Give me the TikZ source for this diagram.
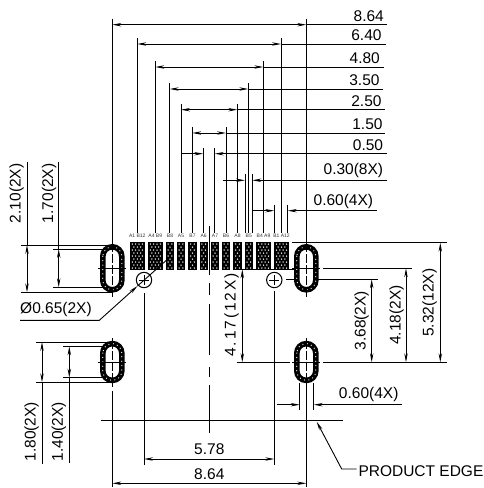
\documentclass[tikz,border=0pt]{standalone}
\usepackage{fontspec}
\setmainfont{Liberation Sans}
\usetikzlibrary{arrows.meta}
\tikzset{
  thinline/.style={line width=.9pt},
  dimline/.style={line width=.9pt,{Stealth[length=9pt,width=3.4pt]}-{Stealth[length=9pt,width=3.4pt]}},
  pointer/.style={line width=.9pt,-{Stealth[length=9pt,width=3.4pt]}},
  dimtext/.style={font=\fontsize{15.5}{18}\selectfont,inner sep=0pt,text height=11pt,text depth=0pt},
  padtext/.style={font=\fontsize{5}{6}\selectfont,inner sep=0pt,text=black!80}
}
\begin{document}
\begin{tikzpicture}[x=1pt,y=-1pt]
      \useasboundingbox (0,0) rectangle (484,488);
      % top ladder
      \foreach \xa/\xb/\yd/\xe/\xl/\yl/\txt [count=\n] in {
          112.3/306.3/24.7/387/384/15.7/8.64,
          137.3/281/44/385.7/381.7/35/6.40,
          155.3/263.3/67/384/380/58.3/4.80,
          169.7/248.3/89/383/379.7/80/3.50,
          181/237.3/109.7/385/381.7/100.7/2.50,
          192.3/226/133/385/382.7/124.3/1.50} {
        \draw[thinline] (\xa,\yd-6) -- (\xa,233);
        \draw[thinline] (\xb,\yd-6) -- (\xb,233);
        \draw[dimline] (\xa,\yd) -- (\xb,\yd);
        \draw[thinline] (\xb,\yd) -- (\xe,\yd);
        \node[dimtext,anchor=east] (toplabel\n) at (\xl,\yl) {\txt};
      }
      % outside arrows
      \foreach \xa/\xb/\yd/\xs/\xe/\xl/\yl/\txt [count=\n] in {
          203.3/214.7/153.7/181/386.7/383.3/145/0.50,
          245/252.3/180.3/222.7/386.7/383.3/169/{0.30(8X)},
          274.3/287.7/210.7/252/376.7/373.3/200/{0.60(4X)}} {
        \draw[thinline] (\xa,\yd-6) -- (\xa,233);
        \draw[thinline] (\xb,\yd-6) -- (\xb,233);
        \draw[pointer] (\xs,\yd) -- (\xa,\yd);
        \draw[pointer] (\xe,\yd) -- (\xb,\yd);
        \node[dimtext,anchor=east] (pitchlabel\n) at (\xl,\yl) {\txt};
      }
      % centre line
      \foreach \ya/\yb in {226/275,283/295,304/355,367/377,385/433}
        \draw[thinline] (209.3,\ya) -- (209.3,\yb);
      % extension lines
      \draw[thinline] (21,245) -- (112,245);
      \draw[thinline] (21,292.3) -- (112,292.3);
      \draw[thinline] (53,249) -- (112,249);
      \draw[thinline] (53,287.3) -- (112,287.3);
      \draw[thinline] (36,342) -- (112,342);
      \draw[thinline] (36,382.3) -- (112,382.3);
      \draw[thinline] (63.3,346.3) -- (112,346.3);
      \draw[thinline] (63.3,377.7) -- (112,377.7);
      \draw[thinline] (291.7,242.7) -- (446.7,242.7);
      \draw[thinline] (236.7,362.3) -- (290,362.3);
      \draw[thinline] (323,362.3) -- (446.7,362.3);
      \draw[thinline] (323.3,268.3) -- (411.7,268.3);
      \draw[thinline] (286,279.3) -- (377.7,279.3);
      \draw[thinline] (238,269.3) -- (296,269.3);
      \draw[thinline] (112.3,19) -- (112.3,296.7);
      \draw[thinline] (306.3,19) -- (306.3,296.7);
      \draw[thinline] (112.3,338) -- (112.3,387);
      \draw[thinline] (112.3,391) -- (112.3,487);
      \draw[thinline] (306.3,338) -- (306.3,487);
      \draw[thinline] (144,293) -- (144,465);
      \draw[thinline] (274.3,290.7) -- (274.3,465);
      \draw[thinline] (299.7,383) -- (299.7,410);
      \draw[thinline] (313.7,383) -- (313.7,410);
      \draw[thinline] (101,420.7) -- (343.3,420.7);
      % pads
      \foreach \cx/\txt [count=\n] in {137.3/A1 B12,155.3/A4 B9,263.5/B4 A9,281.5/B1 A12} {
        \fill (\cx-7.4,241.7) rectangle (\cx+7.4,270);
        \foreach \r in {0,2,4,6,8}
          \foreach \d in {-5,-1.7,1.7,5}
            \fill[white] (\cx+\d,244+3*\r) circle[radius=.75];
        \foreach \r in {1,3,5,7}
          \foreach \d in {-3.4,0,3.4}
            \fill[white] (\cx+\d,244+3*\r) circle[radius=.75];
        \node[padtext] (widepad\n) at (\cx,235.7) {\txt};
      }
      \foreach \cx/\txt [count=\n] in {170/B8,181/A5,192.5/B7,203.7/A6,215/A7,226/B6,237.5/A8,248.8/B5} {
        \fill (\cx-4.15,241.7) rectangle (\cx+4.15,270);
        \foreach \r in {0,2,4,6,8}
          \foreach \d in {-1.8,1.8}
            \fill[white] (\cx+\d,244+3*\r) circle[radius=.75];
        \foreach \r in {1,3,5,7}
          \fill[white] (\cx,244+3*\r) circle[radius=.75];
        \node[padtext] (narrowpad\n) at (\cx,235.7) {\txt};
      }
      % slots
      \foreach \cx/\cy/\hh in {112.3/268.3/21.5,306.3/268.3/21.5,112.3/362/18.4,306.3/362/18.4} {
        \filldraw[fill=white,line width=5.6pt,rounded corners=9.49pt] (\cx-9.5,\cy-\hh) rectangle (\cx+9.5,\cy+\hh);
        \draw[white,line width=1.25pt,line cap=round,dash pattern=on 0pt off 4.4pt,rounded corners=9.49pt] (\cx-9.5,\cy-\hh) rectangle (\cx+9.5,\cy+\hh);
        \draw[thinline] (\cx-14,\cy) -- (\cx+14,\cy);
        \draw[thinline,dash pattern=on 9pt off 2pt] (\cx,\cy-\hh-4) -- (\cx,\cy+\hh+4);
      }
      % holes
      \foreach \cx in {144,274.3} {
        \draw[line width=1pt,fill=white] (\cx,280) circle[radius=7.7];
        \draw[thinline] (\cx-5,280) -- (\cx+5,280);
        \draw[thinline] (\cx,275) -- (\cx,285);
      }
      \draw[pointer] (20,320.3) -- (99.3,320.3) -- (137.5,286);
      \draw[thinline] (137.5,286) -- (166.7,260);
      \node[dimtext,anchor=west] (holelabel) at (20,308.3) {Ø0.65(2X)};
      % left dims
      \draw[thinline] (27,161.7) -- (27,245);
      \draw[dimline] (27,245) -- (27,292.3);
      \draw[thinline] (58.7,161.7) -- (58.7,249);
      \draw[dimline] (58.7,249) -- (58.7,287.3);
      \draw[thinline] (42,382.3) -- (42,464.3);
      \draw[dimline] (42,342) -- (42,382.3);
      \draw[thinline] (69.3,377.7) -- (69.3,463);
      \draw[dimline] (69.3,346.3) -- (69.3,377.7);
      \node[dimtext,rotate=90] (slotlabela) at (15,193.3) {2.10(2X)};
      \node[dimtext,rotate=90] (slotlabelb) at (47.7,193.3) {1.70(2X)};
      \node[dimtext,rotate=90] (slotlabelc) at (30,431.7) {1.80(2X)};
      \node[dimtext,rotate=90] (slotlabeld) at (57.3,431.7) {1.40(2X)};
      % right dims
      \draw[dimline] (242.3,269.3) -- (242.3,362.3);
      \draw[dimline] (371.7,279.3) -- (371.7,362.3);
      \draw[dimline] (406,268.3) -- (406,362.3);
      \draw[dimline] (440.3,242.7) -- (440.3,362.3);
      \node[dimtext,rotate=90] (rightlabela) at (230,315) {\addfontfeature{LetterSpace=12}4.17(12X)};
      \node[dimtext,rotate=90] (rightlabelb) at (360,320.7) {3.68(2X)};
      \node[dimtext,rotate=90] (rightlabelc) at (395,315) {4.18(2X)};
      \node[dimtext,rotate=90] (rightlabeld) at (428,302.7) {5.32(12X)};
      % bottom dims
      \draw[pointer] (277.3,404.7) -- (299.7,404.7);
      \draw[pointer] (402,404.7) -- (313.7,404.7);
      \node[dimtext] (pitchlabel4) at (368.7,393.3) {0.60(4X)};
      \draw[dimline] (144,459) -- (274.3,459);
      \draw[dimline] (112.3,483.3) -- (306.3,483.3);
      \node[dimtext] (bottomlabela) at (209.3,449.3) {5.78};
      \node[dimtext] (bottomlabelb) at (209.3,474.3) {8.64};
      \node[dimtext,anchor=west] (edgelabel) at (358.3,470.7) {PRODUCT EDGE};
      \draw[pointer] (356.7,469) -- (341.7,469) -- (316.7,421.7);
\end{tikzpicture}
\end{document}
